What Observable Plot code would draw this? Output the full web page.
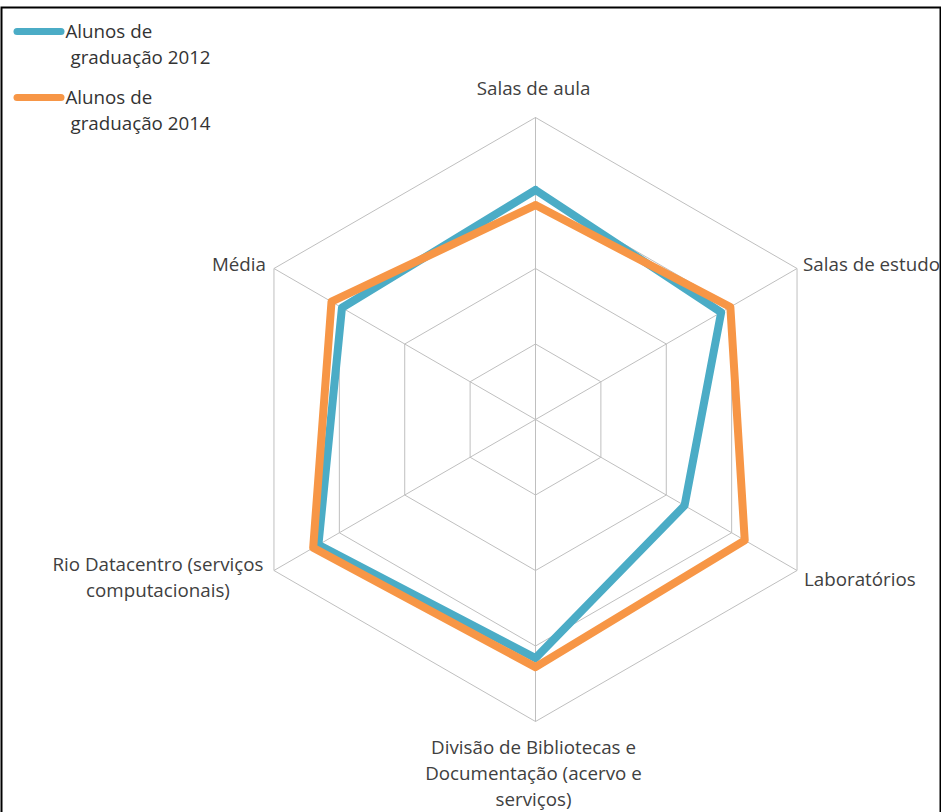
<!DOCTYPE html>
<html>
<head>
<meta charset="utf-8">
<script src="https://cdn.jsdelivr.net/npm/d3@7"></script>
<script src="https://cdn.jsdelivr.net/npm/@observablehq/plot@0.6"></script>
<style>
  html, body { margin: 0; padding: 0; background: #fff; }
  #chart { width: 941px; height: 812px; }
</style>
</head>
<body>
<div id="chart"></div>
<script>
// ---- data ----
const categories = [
  "Salas de aula",
  "Salas de estudo",
  "Laboratórios",
  "Divisão de Bibliotecas e\nDocumentação (acervo e\nserviços)",
  "Rio Datacentro (serviços\ncomputacionais)",
  "Média"
];
const seriesNames = ["Alunos de\ngraduação 2012", "Alunos de\ngraduação 2014"];
const values2012 = [76, 71, 57, 79, 83, 74];
const values2014 = [71, 74.5, 80, 82, 85, 78];
const ringValues = [25, 50, 75, 100];
const maxValue = 100;

// ---- layout (styles) ----
const W = 941, H = 812;
const cx = 535, cy = 419, Rpx = 302;
const k = Rpx / maxValue; // px per unit
const colors = ["#4bacc6", "#f79646"];
const textColor = "#404040";
const font = "'Open Sans', Lato, sans-serif";
const fs = 18.75;

const n = categories.length;
const angle = i => Math.PI / 2 - i * 2 * Math.PI / n;
const pt = (i, r) => ({x: r * Math.cos(angle(i)), y: r * Math.sin(angle(i))});

// grid rings
const rings = ringValues.flatMap(r =>
  d3.range(n + 1).map(i => ({ring: r, ...pt(i % n, r)})));
// spokes
const spokes = categories.map((c, i) => ({x1: 0, y1: 0, x2: pt(i, maxValue).x, y2: pt(i, maxValue).y}));

// series
const series = [values2012, values2014].flatMap((vals, s) =>
  d3.range(n + 1).map(i => ({series: seriesNames[s], s, ...pt(i % n, vals[i % n])})));

// labels: anchored relative to outer vertex
const labelStyle = [
  {anchor: "middle", dx: -2, dy: -31},
  {anchor: "start", dx: 6, dy: -6},
  {anchor: "start", dx: 7, dy: 7},
  {anchor: "middle", dx: -2, dy: 50},
  {anchor: "middle", dx: -116, dy: 5},
  {anchor: "end", dx: -8, dy: -6}
];
const labels = categories.map((c, i) => ({label: c, ...pt(i, maxValue), ...labelStyle[i]}));

// legend rows
const legendLines = seriesNames.flatMap((name, s) =>
  name.split("\n").map((line, j) => ({line, s, j})));

const xDomain = [-cx / k, (W - cx) / k];
const yDomain = [-(H - cy) / k, cy / k];
const legendY = (s, j) => yDomain[1] - (31 + s * 66 + j * 26) / k;

const chart = Plot.plot({
  width: W,
  height: H,
  margin: 0,
  x: {domain: xDomain, axis: null},
  y: {domain: yDomain, axis: null},
  style: {fontFamily: font, background: "#fff"},
  marks: [
    Plot.frame({stroke: "#000", strokeWidth: 2, insetTop: 7, insetLeft: 1, insetRight: 1, insetBottom: -10}),
    Plot.line(rings, {x: "x", y: "y", z: "ring", stroke: "#bfbfbf", strokeWidth: 1}),
    Plot.link(spokes, {x1: "x1", y1: "y1", x2: "x2", y2: "y2", stroke: "#bfbfbf", strokeWidth: 1}),
    Plot.line(series, {x: "x", y: "y", z: "series", stroke: d => colors[d.s], strokeWidth: 8, strokeLinejoin: "round"}),
    ...labels.map(l => Plot.text([l], {
      x: "x", y: "y", text: "label", textAnchor: l.anchor, dx: l.dx, dy: l.dy,
      fontSize: fs, fill: textColor, lineHeight: 1.4
    })),
    // legend swatches
    ...seriesNames.map((name, s) => Plot.ruleY([legendY(s, 0)], {
      x1: xDomain[0] + 17 / k, x2: xDomain[0] + 61 / k,
      stroke: colors[s], strokeWidth: 7, strokeLinecap: "round"
    })),
    Plot.text(legendLines, {
      x: d => xDomain[0] + (d.j === 0 ? 65 : 70) / k,
      y: d => legendY(d.s, d.j),
      text: "line", textAnchor: "start",
      fontSize: fs, fill: "#333"
    })
  ]
});
document.getElementById("chart").appendChild(chart);
</script>
</body>
</html>
